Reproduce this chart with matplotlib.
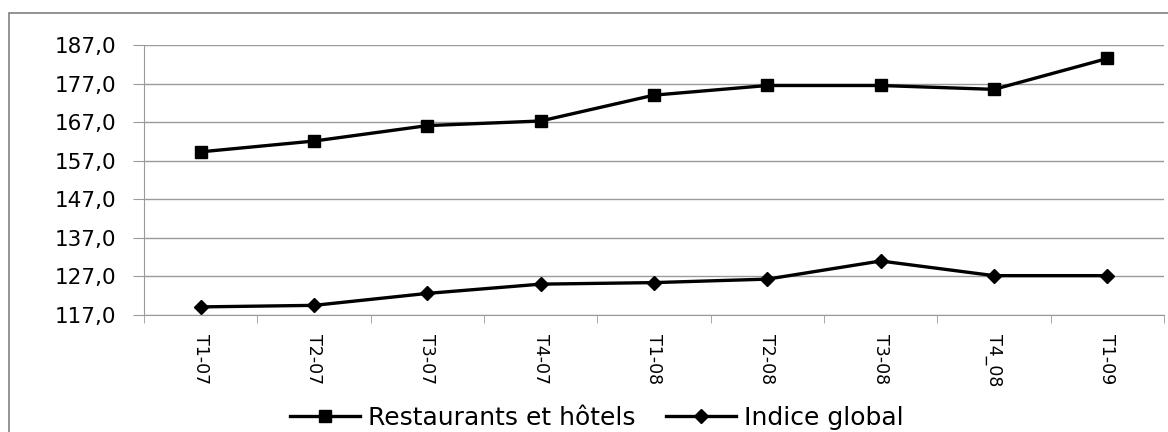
import matplotlib.pyplot as plt
from matplotlib.patches import Rectangle
from matplotlib.ticker import FuncFormatter

# data
periods = ['T1-07', 'T2-07', 'T3-07', 'T4-07', 'T1-08', 'T2-08', 'T3-08', 'T4_08', 'T1-09']
restaurants = [159.3, 162.1, 166.1, 167.3, 174.0, 176.5, 176.5, 175.5, 183.5]
indice_global = [119.1, 119.5, 122.6, 125.0, 125.4, 126.3, 131.0, 127.2, 127.2]

W, H = 1168, 432
fig = plt.figure(figsize=(W / 100, H / 100), dpi=100)
ax = fig.add_axes([144 / W, 1 - 315 / H, (1164 - 144) / W, (315 - 45) / H])

# outer chart border (left and top visible, right/bottom run off the picture)
fig.patches.append(Rectangle((9 / W, -0.1), 1.2, 1 - 13 / H + 0.1,
                             transform=fig.transFigure, fill=False,
                             edgecolor='#808080', linewidth=1.2))

x = list(range(len(periods)))
ax.plot(x, restaurants, '-', color='black', lw=2.4, marker='s', ms=8.5,
        label='Restaurants et hôtels')
ax.plot(x, indice_global, '-', color='black', lw=2.4, marker='D', ms=7.5,
        label='Indice global')

ax.set_xlim(-0.5, len(periods) - 0.5)
ax.set_ylim(117, 187)
ax.set_yticks([117, 127, 137, 147, 157, 167, 177, 187])
ax.yaxis.set_major_formatter(FuncFormatter(lambda v, p: f'{v:.1f}'.replace('.', ',')))
ax.grid(axis='y', color='#9a9a9a', lw=1)
ax.set_axisbelow(True)

ax.set_xticks(x)
ax.set_xticklabels(periods, rotation=270, fontsize=12.5, family='DejaVu Sans')
ax.set_xticks([i - 0.5 for i in range(len(periods) + 1)], minor=True)
ax.tick_params(axis='x', which='major', length=0, pad=14)
ax.tick_params(axis='x', which='minor', length=6, color='#9a9a9a', direction='out')
ax.tick_params(axis='y', length=8, color='#9a9a9a', labelsize=15.5, pad=12)

for s in ['top', 'right']:
    ax.spines[s].set_visible(False)
ax.spines['left'].set_color('#9a9a9a')
ax.spines['bottom'].set_color('#9a9a9a')

fig.legend(loc='center', bbox_to_anchor=(597 / W, 1 - 418 / H), ncol=2, frameon=False,
           prop={'family': 'DejaVu Sans', 'size': 18}, handlelength=2.8, columnspacing=1.2,
           handletextpad=0.33, borderpad=0)

fig.savefig('out.png', dpi=100)
